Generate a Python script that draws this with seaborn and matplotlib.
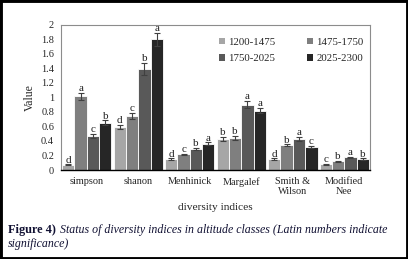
import seaborn as sns
import matplotlib.pyplot as plt
from matplotlib.patches import Rectangle
import pandas as pd
import numpy as np

indices = ['simpson', 'shanon', 'Menhinick', 'Margalef', 'Smith &\nWilson', 'Modified\nNee']
classes = ['1200-1475', '1475-1750', '1750-2025', '2025-2300']

# one list per altitude class, in the order of indices
v1200 = [0.075, 0.59, 0.15, 0.425, 0.15, 0.08]
v1475 = [1.015, 0.75, 0.215, 0.44, 0.345, 0.12]
v1750 = [0.47, 1.395, 0.29, 0.90, 0.43, 0.175]
v2025 = [0.65, 1.80, 0.36, 0.82, 0.32, 0.15]

e1200 = [0.005, 0.03, 0.01, 0.03, 0.01, 0.005]
e1475 = [0.05, 0.04, 0.005, 0.03, 0.01, 0.005]
e1750 = [0.025, 0.08, 0.015, 0.05, 0.03, 0.008]
e2025 = [0.035, 0.09, 0.02, 0.04, 0.015, 0.01]

s1200 = ['d', 'd', 'd', 'b', 'd', 'c']
s1475 = ['a', 'c', 'c', 'b', 'b', 'b']
s1750 = ['c', 'b', 'b', 'a', 'a', 'a']
s2025 = ['b', 'a', 'a', 'a', 'c', 'b']

colors = ['#a6a6a6', '#7f7f7f', '#595959', '#262626']

rows = []
for cls, vals, errs, sig in zip(classes, [v1200, v1475, v1750, v2025],
                                [e1200, e1475, e1750, e2025],
                                [s1200, s1475, s1750, s2025]):
    for ind, v, e, s in zip(indices, vals, errs, sig):
        rows.append({'index': ind, 'cls': cls, 'value': v, 'err': e, 'sig': s})
df = pd.DataFrame(rows)

sns.set_style("white")
plt.rcParams['font.family'] = ['Liberation Serif', 'DejaVu Serif']

fig = plt.figure(figsize=(4.08, 2.59), dpi=100)
ax = fig.add_axes([0.1495, 0.3436, 0.7575, 0.56])

sns.barplot(data=df, x='index', y='value', hue='cls', order=indices, hue_order=classes,
            palette=colors, width=0.96, edgecolor='white', linewidth=0.6,
            saturation=1, errorbar=None, ax=ax)

# error bars and significance letters at the bar positions
for cont, cls in zip(ax.containers, classes):
    sub = df[df['cls'] == cls].set_index('index').loc[indices]
    for bar, (_, r) in zip(cont, sub.iterrows()):
        xc = bar.get_x() + bar.get_width() / 2
        ax.errorbar(xc, r['value'], yerr=r['err'], color='#404040', capsize=2.2,
                    elinewidth=0.8, capthick=0.8)
        ax.text(xc, r['value'] + r['err'] - 0.005, r['sig'], ha='center', va='bottom',
                fontsize=8, color='#222222')

ax.set_ylim(0, 2)
ax.set_yticks(np.arange(0, 2.01, 0.2))
ax.set_yticklabels(['0'] + ['%g' % t for t in np.arange(0.2, 2.01, 0.2)])
ax.set_xlim(-0.5, len(indices) - 0.5)
ax.set_ylabel('Value', fontsize=8.5)
ax.set_xlabel('diversity indices', fontsize=8.2, labelpad=5)
ax.tick_params(axis='x', labelsize=7.4, length=0, pad=5)
ax.tick_params(axis='y', labelsize=7.4, direction='in', length=2, color='#8c8c8c', pad=5)
ax.set_xticks(np.arange(len(indices)) + 0.5, minor=True)
ax.tick_params(axis='x', which='minor', direction='in', length=2, color='black')

for side in ['top', 'right', 'left']:
    ax.spines[side].set_color('#8c8c8c')
    ax.spines[side].set_linewidth(0.8)
ax.spines['bottom'].set_color('black')
ax.spines['bottom'].set_linewidth(1.0)

handles, labels = ax.get_legend_handles_labels()
order = [0, 2, 1, 3]
leg = ax.legend([handles[i] for i in order], [labels[i] for i in order],
                ncol=2, frameon=False, fontsize=7.8, loc='upper right',
                bbox_to_anchor=(1.01, 0.98), handlelength=0.55, handleheight=0.55,
                handletextpad=0.3, columnspacing=2.9, labelspacing=0.7)
for h in leg.legend_handles:
    h.set_edgecolor('none')

fig.text(0.02, 0.1, 'Figure 4)', fontsize=8.8, fontweight='bold', color='#111133')
fig.text(0.147, 0.1, 'Status of diversity indices in altitude classes (Latin numbers indicate',
         fontsize=8.6, style='italic', color='#111133')
fig.text(0.02, 0.045, 'significance)', fontsize=8.6, style='italic', color='#111133')

fig.patches.append(Rectangle((0, 0), 1, 1, transform=fig.transFigure, fill=False,
                             edgecolor='black', linewidth=3.5, zorder=10))

fig.savefig('out.png', dpi=100)
